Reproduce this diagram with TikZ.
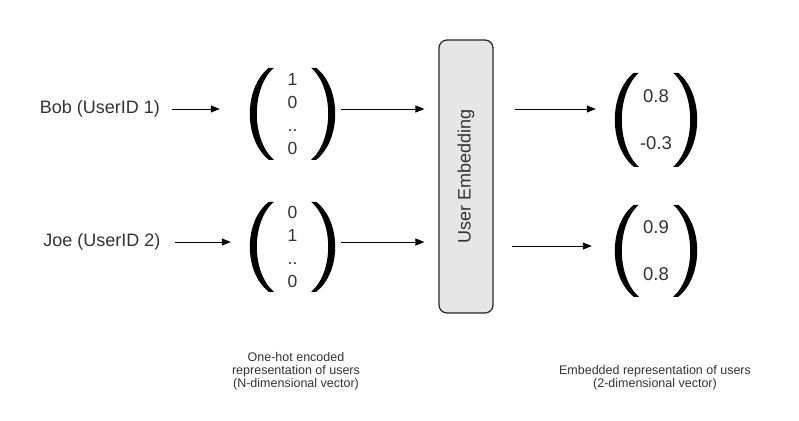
\documentclass[tikz,border=0pt]{standalone}
\usepackage{fontspec}
\setmainfont{Liberation Sans}
\usetikzlibrary{arrows.meta}
\definecolor{txt}{HTML}{333333}
\definecolor{boxfill}{HTML}{E6E6E6}
\tikzset{
  lpar/.pic={\fill[black] (19,0) .. controls (-6.33,0.22) and (-6.33,0.78) .. (19,1)
      -- (24,1) .. controls (1.33,0.78) and (1.33,0.22) .. (24,0) -- cycle;},
  arr/.style={line width=1pt, -{Triangle[length=9pt,width=7pt]}},
  lbl/.style={inner sep=0pt, text=txt, font=\fontsize{18}{22}\selectfont},
  vecL/.style={inner sep=0pt, minimum width=85pt, minimum height=92pt, align=center, text=txt,
      font=\fontsize{17.5}{23}\selectfont},
  vecR/.style={inner sep=0pt, minimum width=82pt, align=center, text=txt,
      font=\fontsize{18.5}{47}\selectfont},
  captxt/.style={inner sep=0pt, align=center, text=txt, font=\fontsize{12.5}{13}\selectfont},
  embbox/.style={draw=black!85, line width=1.2pt, fill=boxfill, rounded corners=8pt,
      minimum width=54pt, minimum height=273pt, inner sep=0pt}
}
\begin{document}
\begin{tikzpicture}[x=1pt,y=-1pt]
\useasboundingbox (0,0) rectangle (799,420);
% left labels
\node[lbl] (bob) at (100,109) {Bob (UserID 1)};
\node[lbl] (joe) at (102,242) {Joe (UserID 2)};
% one-hot vectors
\node[vecL] (v1) at (292.5,114) {1\\0\\..\\0};
\node[vecL, minimum height=90pt] (v2) at (292.5,247) {0\\1\\..\\0};
\pic[yscale=92] at (v1.north west) {lpar};
\pic[xscale=-1,yscale=92] at (v1.north east) {lpar};
\pic[yscale=90] at (v2.north west) {lpar};
\pic[xscale=-1,yscale=90] at (v2.north east) {lpar};
% embedding box
\node[embbox] (box) at (466,176.5) {};
\node[lbl, rotate=90] (boxtxt) at (box.center) {User Embedding};
% embedded vectors
\node[vecR, minimum height=94pt] (e1) at (656,120) {0.8\\-0.3};
\node[vecR, minimum height=92pt] (e2) at (656,251) {0.9\\0.8};
\pic[yscale=94] at (e1.north west) {lpar};
\pic[xscale=-1,yscale=94] at (e1.north east) {lpar};
\pic[yscale=92] at (e2.north west) {lpar};
\pic[xscale=-1,yscale=92] at (e2.north east) {lpar};
% arrows
\draw[arr, shorten <=12pt, shorten >=30pt] (bob.east) -- (bob.east -| v1.west);
\draw[arr, shorten <=14pt, shorten >=19pt] (joe.east) -- (joe.east -| v2.west);
\draw[arr, shorten <=6pt, shorten >=14pt] (v1.east |- bob) -- (box.west |- bob);
\draw[arr, shorten <=6pt, shorten >=14pt] (v2.east |- joe) -- (box.west |- joe);
\draw[arr, shorten <=21pt, shorten >=19pt] (box.east |- bob) -- (e1.west |- bob);
\draw[arr, shorten <=18pt, shorten >=23pt] ([yshift=-4pt]box.east |- joe) -- ([yshift=-4pt]e2.west |- joe);
% captions
\node[captxt] (cap1) at (296,371) {One-hot encoded\\representation of users\\(N-dimensional vector)};
\node[captxt] (cap2) at (655,377.5) {Embedded representation of users\\(2-dimensional vector)};
\end{tikzpicture}
\end{document}
